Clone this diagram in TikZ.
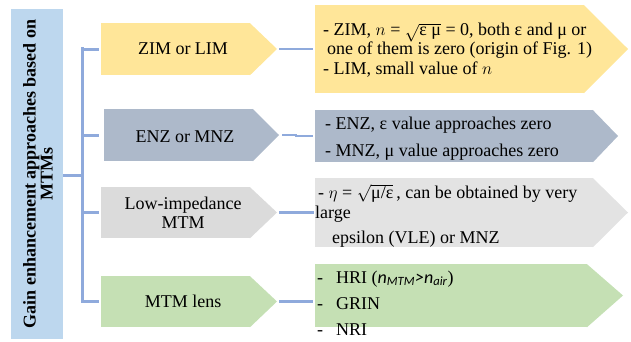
\documentclass[tikz,border=0pt]{standalone}
\usepackage{fontspec}
\setmainfont{Liberation Serif}
\newfontfamily\carl{Carlito}
\usetikzlibrary{calc}
\definecolor{cbar}{HTML}{BDD7EE}
\definecolor{cline}{HTML}{8FAADC}
\definecolor{cyel}{HTML}{FFE699}
\definecolor{cenz}{HTML}{ADB9CA}
\definecolor{clow}{HTML}{DBDBDB}
\definecolor{clowr}{HTML}{E3E3E3}
\definecolor{cgrn}{HTML}{C5E0B4}
\newcommand\arrbox[7]{%
  \node[fill=#2, inner sep=0pt, minimum width={(#5-#3)*1pt}, minimum height={(#6-#4)*1pt}, anchor=north west] (#1) at (#3,#4) {};
  \fill[#2] ([xshift=-0.6pt]#1.north east) -- (#7,{(#4+#6)/2}) -- ([xshift=-0.6pt]#1.south east) -- cycle;
  \coordinate (#1tip) at (#7,{(#4+#6)/2});
}
\begin{document}
\begin{tikzpicture}[x=1pt,y=-1pt,
  font=\fontsize{18}{20}\selectfont,
  tree/.style={draw=cline, line width=3pt},
  link/.style={draw=cline, line width=2.5pt},
  lt/.style={anchor=base},
  rt/.style={anchor=base west, inner sep=0pt}]
\useasboundingbox (0,0) rectangle (631,342);
% left bar
\node[fill=cbar, inner sep=0pt, minimum width=52pt, minimum height=330pt, anchor=north west] (bar) at (11,9) {};
\node[rotate=90, align=center, font=\fontsize{18}{17}\selectfont\bfseries] (bartext) at (38,174)
  {Gain enhancement approaches based on\\MTMs};
% boxes
\arrbox{zl}{cyel}{101}{23}{250}{75}{277}
\arrbox{el}{cenz}{104}{109}{253}{161}{279}
\arrbox{ll}{clow}{101}{187}{250}{238}{277}
\arrbox{gl}{cgrn}{101}{276}{250}{327}{277}
\arrbox{zr}{cyel}{315}{5}{584}{93}{628}
\arrbox{er}{cenz}{315}{110}{593}{162}{618}
\arrbox{lr}{clowr}{315}{178}{593}{247}{628}
\arrbox{gr}{cgrn}{315}{264}{587}{327}{623}
% tree
\coordinate (tj) at (82,175);
\coordinate (ttop) at (82,47.5);
\coordinate (tbot) at (82,302.5);
\draw[tree] (bar.east |- tj) -- (tj);
\draw[tree] (ttop) -- (tbot);
\draw[tree] (tj |- zl.west) -- ($(zl.west)+(-2,0)$);
\draw[tree] (tj |- el.west) -- ($(el.west)+(-5,0)$);
\draw[tree] (tj |- ll.west) -- ($(ll.west)+(-2,0)$);
\draw[tree] (tj |- gl.west) -- ($(gl.west)+(-2,0)$);
% links
\draw[link] ($(zltip)+(2,0)$) -- ($(zr.west |- zltip)+(-2,0)$);
\draw[link] ($(eltip)+(3,0)$) -- ($(eltip)+(17,0)$) -- ($(eltip)+(17,1)$) -- ($(er.west |- eltip)+(-2,1)$);
\draw[link] ($(lltip)+(2,0)$) -- ($(lr.west |- lltip)+(-1,0)$);
\draw[link] ($(gltip)+(2,0)$) -- ($(gr.west |- gltip)+(-2,0)$);
% left texts
\node[lt] (zlt) at (183,55) {ZIM or LIM};
\node[lt] (elt) at (185,142) {ENZ or MNZ};
\node[lt] (llt1) at (183,209) {Low-impedance};
\node[lt] (llt2) at (183,228) {MTM};
\node[lt] (glt) at (183,307) {MTM lens};
% right texts
\node[rt] (zr1) at (323,36) {- ZIM, $n$ = $\sqrt{\mbox{ε μ}}$ = 0, both ε and μ or};
\node[rt] (zr2) at (327,55) {one of them is zero (origin of Fig. 1)};
\node[rt] (zr3) at (323,75) {- LIM, small value of $n$};
\node[rt] (er1) at (325,129) {- ENZ, ε value approaches zero};
\node[rt] (er2) at (325,156) {- MNZ, μ value approaches zero};
\node[rt] (lr1) at (318,198) {- $\eta$ = $\sqrt{\mbox{μ/ε}}$\,, can be obtained by very};
\node[rt] (lr2) at (315,218) {large};
\node[rt] (lr3) at (332,243) {epsilon (VLE) or MNZ};
\node[rt] (gr1) at (317,283) {-\hskip 13pt HRI ({\carl\itshape n\textsubscript{MTM}>n\textsubscript{air}})};
\node[rt] (gr2) at (317,309) {-\hskip 13pt GRIN};
\node[rt] (gr3) at (317,335) {-\hskip 13pt NRI};
\end{tikzpicture}
\end{document}
